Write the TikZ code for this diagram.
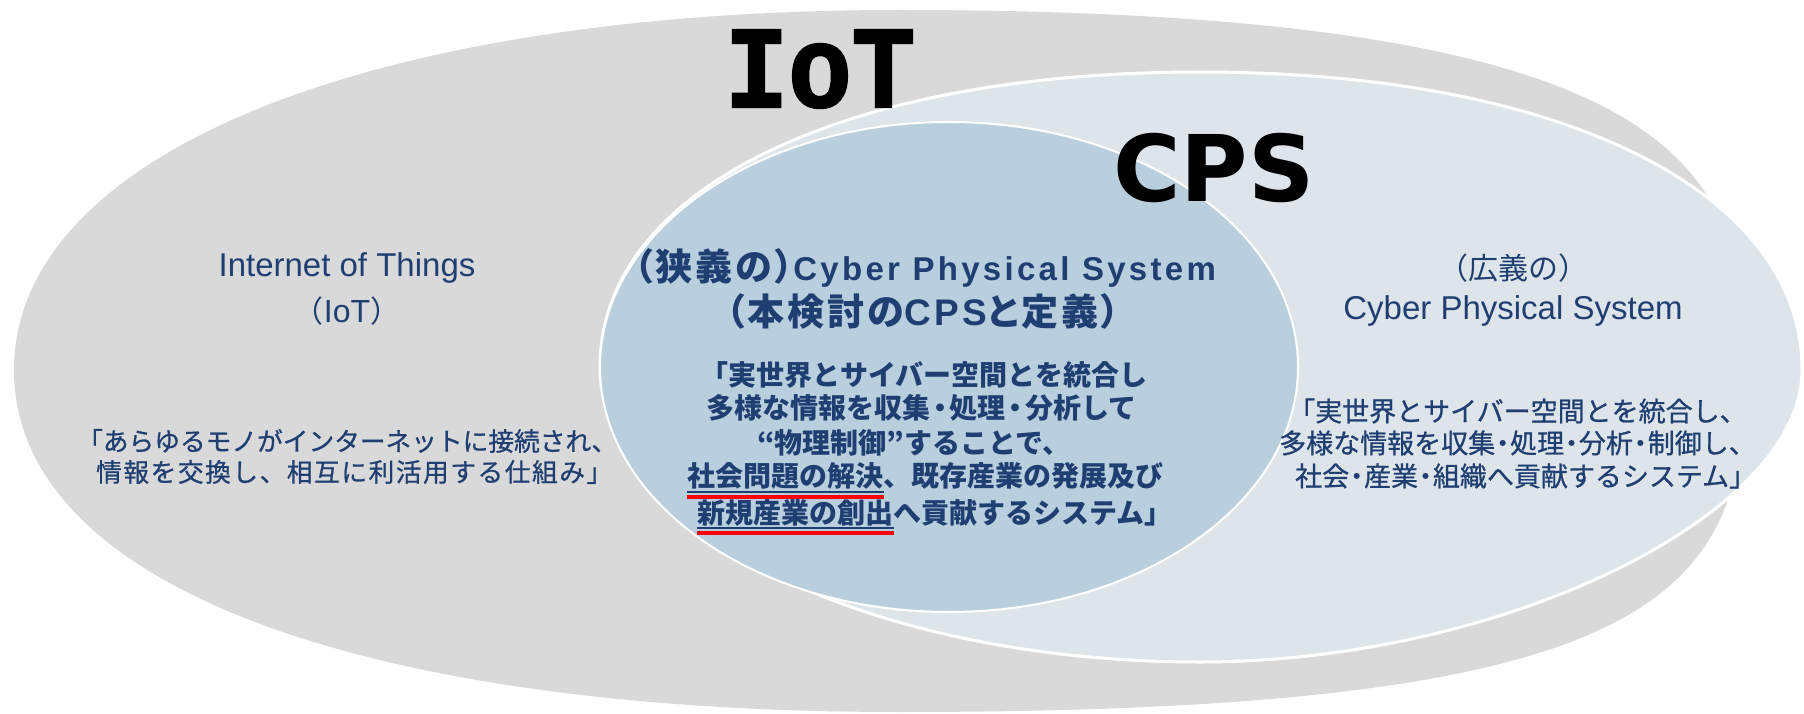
\documentclass[tikz,border=0pt]{standalone}
\usepackage{fontspec}
\usepackage{graphicx}
\newfontfamily\jp{Noto Sans CJK JP}
\newfontfamily\jpm{Noto Sans CJK JP}[FakeBold=0.8]
\newfontfamily\jpmsp{Noto Sans CJK JP}[FakeBold=0.8, LetterSpace=6]
\newfontfamily\jpsp{Noto Sans CJK JP}[LetterSpace=8, RawFeature=+palt]
\newfontfamily\lat{Liberation Sans}
\newfontfamily\latsp{Liberation Sans}[LetterSpace=10]
\newfontfamily\iotf{Liberation Mono}[FakeBold=2]
\newfontfamily\cpsf{DejaVu Sans}
\newcommand\nd[1]{\makebox[#1em]{・}}
\definecolor{grayout}{HTML}{D9D9D9}
\definecolor{cpslight}{HTML}{DEE5EA}
\definecolor{cpsblue}{HTML}{B9CFDD}
\definecolor{navy}{HTML}{1F3F73}
\definecolor{ulred}{HTML}{FF0000}
\begin{document}
\begin{tikzpicture}[x=1pt,y=-1pt,
  txt/.style={text=navy, inner sep=0pt},
  redline/.style={ulred, line width=4pt},
  navyline/.style={navy, line width=1.3pt}]
\useasboundingbox (0,0) rectangle (1804,714);
\fill[white] (0,0) rectangle (1804,714);
\clip (0,0) rectangle (1804,714);
% outer IoT shape
\fill[grayout] (14,370)
  .. controls (14,154) and (368,10) .. (900,10)
  .. controls (1710,10) and (1745,180) .. (1745,375)
  .. controls (1745,600) and (1650,712) .. (900,712)
  .. controls (351,712) and (14,582) .. (14,370) -- cycle;
% broad CPS
\path[fill=cpslight, draw=white, line width=3pt] (600,367)
  .. controls (600,190) and (840,72) .. (1200,72)
  .. controls (1561,72) and (1802,191) .. (1802,370)
  .. controls (1802,516) and (1501,662) .. (1200,662)
  .. controls (869,662) and (600,530) .. (600,367) -- cycle;
% narrow CPS
\path[fill=cpsblue, draw=white, line width=2pt] (949,367) ellipse [x radius=349pt, y radius=245pt];
% big titles
\node[inner sep=0pt, font=\iotf\bfseries\fontsize{92}{92}\selectfont] (iotbig) at (820,69) {\scalebox{1.15}[1.27]{IoT}};
\node[inner sep=0pt, font=\cpsf\bfseries\fontsize{92}{92}\selectfont] (cpsbig) at (1214,168) {CPS};
% left
\node[txt, font=\lat\fontsize{33}{36}\selectfont] (iotname) at (347,268) {Internet of Things};
\node[txt, font=\lat\fontsize{32}{36}\selectfont] (iotabbr) at (347,311) {{\jp\fontsize{30}{36}\selectfont （}IoT{\jp\fontsize{30}{36}\selectfont ）}};
\node[txt, anchor=west, font=\jpm\fontsize{25.7}{31}\selectfont] (iotd1) at (77,441) {「あらゆるモノがインターネットに接続され、};
\node[txt, anchor=west, font=\jpmsp\fontsize{25.7}{31}\selectfont] (iotd2) at (96,472) {情報を交換し、相互に利活用する仕組み」};
% centre
\node[txt, font=\jpsp\bfseries\fontsize{37}{40}\selectfont] (nh1) at (925,268) {（狭義の）{\latsp\bfseries\fontsize{33}{40}\selectfont Cyber Physical System}};
\node[txt, font=\jpsp\bfseries\fontsize{37}{40}\selectfont] (nh2) at (923,311) {（本検討の{\latsp\bfseries\fontsize{37}{40}\selectfont CPS}と定義）};
\node[txt, anchor=west, font=\jp\bfseries\fontsize{28}{34}\selectfont] (nb1) at (700,375) {「実世界とサイバー空間とを統合し};
\node[txt, anchor=west, font=\jp\bfseries\fontsize{28}{34}\selectfont] (nb2) at (706,408) {多様な情報を収集\nd{0.7}処理\nd{0.7}分析して};
\node[txt, anchor=west, font=\jp\bfseries\fontsize{28}{34}\selectfont] (nb3) at (757,443) {“物理制御”することで、};
\node[txt, anchor=west, font=\jp\bfseries\fontsize{28}{34}\selectfont] (nb4) at (687,476) {社会問題の解決、既存産業の発展及び};
\node[txt, anchor=west, font=\jp\bfseries\fontsize{28}{34}\selectfont] (nb5) at (697,513) {新規産業の創出へ貢献するシステム」};
\draw[navyline] (687,492) -- (884,492);
\draw[redline] (687,497) -- (884,497);
\draw[navyline] (697,528) -- (894,528);
\draw[redline] (697,533) -- (894,533);
% right
\node[txt, font=\jp\fontsize{30}{34}\selectfont] (broad1) at (1513,268) {（広義の）};
\node[txt, font=\lat\fontsize{33}{36}\selectfont] (broad2) at (1513,311) {Cyber Physical System};
\node[txt, anchor=west, font=\jpm\fontsize{27}{32}\selectfont] (bd1) at (1288,411) {「実世界とサイバー空間とを統合し、};
\node[txt, anchor=west, font=\jpm\fontsize{27}{32}\selectfont] (bd2) at (1279,443) {多様な情報を収集\nd{0.55}処理\nd{0.55}分析\nd{0.55}制御し、};
\node[txt, anchor=west, font=\jpm\fontsize{27}{32}\selectfont] (bd3) at (1295,476) {社会\nd{0.55}産業\nd{0.55}組織へ貢献するシステム」};
\end{tikzpicture}
\end{document}
